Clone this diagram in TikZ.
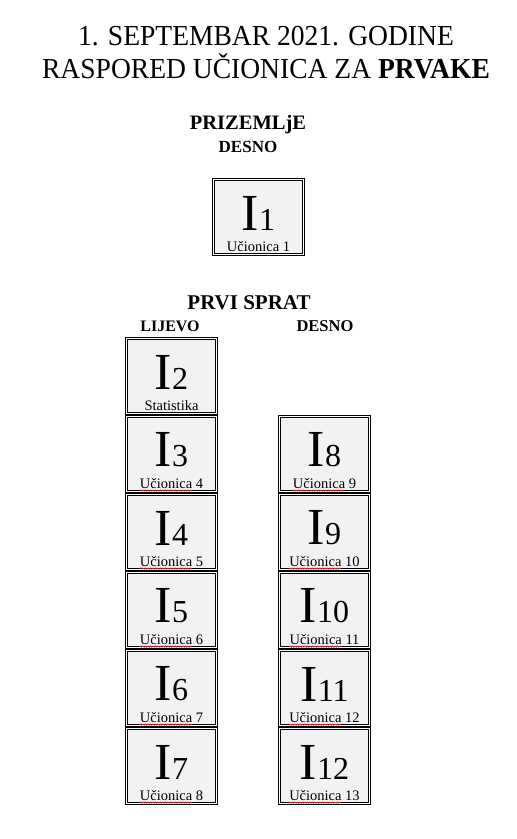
\documentclass[tikz,border=0pt]{standalone}
\usepackage{fontspec}
\setmainfont{Liberation Serif}
\newfontfamily\serifttl{Liberation Serif}
\usetikzlibrary{decorations.pathmorphing,calc}
\definecolor{cellfill}{HTML}{F2F2F2}
\definecolor{spellred}{HTML}{E03030}
\newcommand\lblfont{\rmfamily\fontsize{14.5}{15}\selectfont}
\tikzset{
  cell/.style={draw=black, line width=0.8pt, double=white, double distance=1.6pt,
    fill=cellfill, minimum width=89.8pt, minimum height=74.8pt, inner sep=0pt},
  roomno/.style={inner sep=0pt, font=\rmfamily\fontsize{52}{52}\selectfont},
  roomlbl/.style={inner sep=0pt, font=\lblfont, anchor=base},
  titletext/.style={inner sep=0pt, xscale=0.95, font=\serifttl\fontsize{29}{30}\selectfont},
  head/.style={inner sep=0pt, font=\rmfamily\bfseries\fontsize{#1}{#1}\selectfont},
  wave/.style={spellred, line width=0.6pt, decorate,
    decoration={snake, amplitude=0.7pt, segment length=2.5pt}}
}
% #1 name, #2 x left, #3 y top, #4 number, #5 label text
\newcommand\mycell[5]{%
  \node[cell] (#1) at (#2+46.5, #3+39) {};
  \node[roomno] (#1n) at (#2+46.5, #3+35) {I\fontsize{32}{32}\selectfont #4};
  \node[roomlbl] (#1l) at (#2+46.5, #3+73) {#5};
}
% spell-check wave under the word "Ucionica" of a label
\newcommand\spell[1]{%
  \draw[wave] ($(#1l.base west)+(0,2.6)$) -- ($(#1l.base west)+(52,2.6)$);
}
\begin{document}
\begin{tikzpicture}[x=1pt, y=-1pt]
\useasboundingbox (0,0) rectangle (517,839);
% title
\node[titletext] (t1) at (266,36) {1. SEPTEMBAR 2021. GODINE};
\node[titletext] (t2) at (266,66) {RASPORED UČIONICA ZA \textbf{PRVAKE}};
% ground floor
\node[head=20.5] (prz) at (248,125) {PRIZEMLjE};
\node[head=17] (gdesno) at (248,147) {DESNO};
\mycell{c1}{212}{178}{1}{Učionica 1}
% first floor
\node[head=21] (prvi) at (249,303) {PRVI SPRAT};
\node[head=16] (lijevo) at (170,326) {LIJEVO};
\node[head=16.5] (desno) at (325,326) {DESNO};
\mycell{c2}{125}{337}{2}{Statistika}
\mycell{c3}{125}{415}{3}{Učionica 4}
\mycell{c4}{125}{493}{4}{Učionica 5}
\mycell{c5}{125}{571}{5}{Učionica 6}
\mycell{c6}{125}{649}{6}{Učionica 7}
\mycell{c7}{125}{727}{7}{Učionica 8}
\mycell{c8}{278}{415}{8}{Učionica 9}
\mycell{c9}{278}{493}{9}{Učionica 10}
\mycell{c10}{278}{571}{10}{Učionica 11}
\mycell{c11}{278}{649}{11}{Učionica 12}
\mycell{c12}{278}{727}{12}{Učionica 13}
\spell{c3}\spell{c4}\spell{c5}\spell{c6}\spell{c7}
\spell{c8}\spell{c9}\spell{c10}\spell{c11}\spell{c12}
\end{tikzpicture}
\end{document}
